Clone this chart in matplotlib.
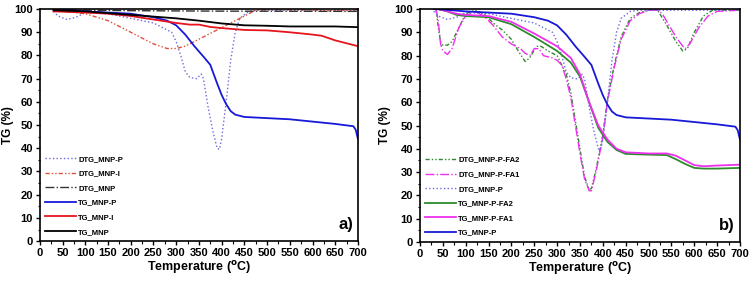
import numpy as np
import matplotlib
matplotlib.use('Agg')
import matplotlib.pyplot as plt
from matplotlib.ticker import MultipleLocator

plt.rcParams['font.family'] = ['Liberation Sans', 'DejaVu Sans']
plt.rcParams['font.weight'] = 'bold'

# ── panel a ──
tg_p_x = [30, 50, 100, 150, 200, 250, 280, 300, 320, 340, 360, 375, 390, 400, 410, 420, 430, 450,
          500, 550, 600, 650, 690, 695, 700]
tg_p_y = [100, 99.8, 99, 98.5, 98, 96.5, 95, 93, 89, 84, 79.5, 76, 68, 63, 59, 56, 54.5, 53.5,
          53, 52.5, 51.5, 50.5, 49.5, 48, 44]

tg_i_x = [30, 100, 150, 200, 250, 300, 330, 350, 375, 400, 450, 500, 550, 600, 620, 650, 700]
tg_i_y = [99, 98.5, 98, 97, 95.5, 94, 93.3, 93.3, 92.3, 91.8, 91, 90.8, 90, 89, 88.5, 86.5, 84]

tg_m_x = [30, 100, 200, 300, 350, 400, 450, 500, 550, 600, 650, 700]
tg_m_y = [99.5, 99, 97.5, 96, 95, 93.8, 93, 92.8, 92.5, 92.5, 92.5, 92.2]

dtg_p_x = [30, 40, 60, 80, 100, 150, 200, 250, 270, 290, 300, 310, 320, 330, 345, 355, 360, 370,
           380, 390, 395, 400, 410, 420, 430, 440, 460, 480, 700]
dtg_p_y = [99, 97, 95.5, 96.5, 98.5, 98, 96, 94, 92, 90, 86, 80, 73, 70.5, 70, 72, 70, 58,
           48, 40, 39.5, 44, 60, 78, 90, 96, 99, 99.5, 99.5]

dtg_i_x = [30, 100, 150, 200, 250, 280, 300, 320, 350, 400, 450, 475, 500, 600, 640, 660, 680, 700]
dtg_i_y = [99.5, 98, 95, 90, 85, 83, 83, 84, 87, 92, 97, 99.5, 99.8, 99.6, 99.2, 99.5, 99.2, 99.8]

dtg_m_x = [30, 100, 200, 400, 700]
dtg_m_y = [100, 99.5, 99.3, 99.1, 99]

# ── panel b ──
tg_fa1_x = [40, 60, 80, 100, 150, 200, 250, 300, 330, 350, 370, 390, 410, 430, 450, 500, 540, 560,
            580, 600, 620, 650, 700]
tg_fa1_y = [100, 99, 98, 97.5, 97, 94.5, 89.5, 84, 79, 72, 60, 50, 44, 40, 38.5, 38, 38, 37,
            35, 33, 32.5, 32.8, 33.2]

tg_fa2_x = [40, 60, 80, 100, 150, 200, 250, 300, 330, 350, 370, 390, 410, 430, 450, 500, 540, 560,
            580, 600, 620, 650, 700]
tg_fa2_y = [100, 99, 97.5, 97, 96.5, 93.5, 88, 82, 77, 71, 60, 49, 43, 39.5, 37.8, 37.5, 37.3, 35.5,
            33.5, 31.8, 31.5, 31.5, 31.8]

dtg_fa1_x = [35, 40, 45, 50, 60, 70, 85, 100, 120, 140, 160, 180, 200, 220, 230, 240, 250, 260, 270,
             290, 300, 310, 320, 330, 340, 350, 360, 370, 375, 385, 400, 410, 425, 440, 460, 480, 500,
             520, 530, 545, 560, 575, 580, 590, 610, 630, 650, 700]
dtg_fa1_y = [100, 95, 85, 82, 80.5, 83, 92, 97, 99, 97, 93, 88, 85, 83, 81, 80, 83, 83, 80,
             79, 78, 76, 70, 62, 50, 38, 27, 22, 22, 30, 45, 60, 75, 87, 95, 98, 99.5,
             99.5, 98, 93, 88, 84, 83, 85, 92, 97, 99, 99.5]

dtg_fa2_x = [35, 40, 45, 50, 60, 70, 85, 100, 120, 140, 160, 180, 200, 215, 230, 240, 255, 265, 280,
             300, 320, 330, 340, 350, 360, 370, 375, 385, 400, 410, 425, 440, 460, 480, 500, 520,
             540, 560, 575, 585, 600, 620, 640, 700]
dtg_fa2_y = [100, 92, 86, 84.5, 84.5, 86, 92, 98, 99.5, 98, 94, 91, 87, 82, 77.5, 79, 84, 84, 82,
             80, 72, 64, 52, 40, 28, 22.5, 23, 31, 46, 61, 76, 88, 96, 98.5, 99.5, 99.5,
             93, 86, 82, 83, 90, 97, 99.5, 99.5]

BLUE = '#1818d8'
DBLUE = '#6a6ae0'
RED = '#e8141e'
DRED = '#e0503a'
GREEN = '#2c8c2c'
MAG = '#ee30ee'
DDOT = (0, (3, 1.5, 1, 1.5, 1, 1.5))

fig = plt.figure(figsize=(7.52, 2.83), dpi=100)
ax1 = fig.add_axes([0.053, 0.148, 0.423, 0.820])
ax2 = fig.add_axes([0.5585, 0.145, 0.4255, 0.823])

ax1.plot(dtg_p_x, dtg_p_y, color=DBLUE, ls=':', lw=1, label='DTG_MNP-P')
ax1.plot(dtg_i_x, dtg_i_y, color=DRED, ls=DDOT, lw=1, label='DTG_MNP-I')
ax1.plot(dtg_m_x, dtg_m_y, color='#333333', ls='-.', lw=1, label='DTG_MNP')
ax1.plot(tg_p_x, tg_p_y, color=BLUE, lw=1.3, label='TG_MNP-P')
ax1.plot(tg_i_x, tg_i_y, color=RED, lw=1.3, label='TG_MNP-I')
ax1.plot(tg_m_x, tg_m_y, color='black', lw=1.3, label='TG_MNP')

ax2.plot(dtg_fa2_x, dtg_fa2_y, color=GREEN, ls=DDOT, lw=1, label='DTG_MNP-P-FA2')
ax2.plot(dtg_fa1_x, dtg_fa1_y, color=MAG, ls='-.', lw=1, label='DTG_MNP-P-FA1')
ax2.plot(dtg_p_x, dtg_p_y, color=DBLUE, ls=':', lw=1, label='DTG_MNP-P')
ax2.plot(tg_fa2_x, tg_fa2_y, color=GREEN, lw=1.3, label='TG_MNP-P-FA2')
ax2.plot(tg_fa1_x, tg_fa1_y, color=MAG, lw=1.3, label='TG_MNP-P-FA1')
ax2.plot(tg_p_x, tg_p_y, color=BLUE, lw=1.3, label='TG_MNP-P')

for ax, tag, lx in [(ax1, 'a)', -0.08), (ax2, 'b)', -0.09)]:
    ax.set_xlim(0, 700)
    ax.set_ylim(0, 100)
    ax.xaxis.set_major_locator(MultipleLocator(50))
    ax.xaxis.set_minor_locator(MultipleLocator(25))
    ax.yaxis.set_major_locator(MultipleLocator(10))
    ax.yaxis.set_minor_locator(MultipleLocator(5))
    ax.tick_params(labelsize=8, length=3, width=1, pad=2)
    ax.tick_params(which='minor', length=1.8, width=0.8)
    for s in ax.spines.values():
        s.set_linewidth(1.2)
    ax.set_xlabel('Temperature ($^{\\mathbf{o}}$C)', fontsize=9, fontweight='bold', labelpad=1)
    ax.set_ylabel('TG (%)', fontsize=8.5, fontweight='bold')
    ax.yaxis.set_label_coords(lx, 0.5)
    ax.text(0.985, 0.04, tag, transform=ax.transAxes, ha='right', va='bottom',
            fontsize=12, fontweight='bold')
    ax.legend(loc='lower left', frameon=False, handlelength=4,
              labelspacing=0.95, borderaxespad=0.3, handletextpad=0.3,
              prop={'weight': 'bold', 'size': 5.5})

fig.savefig('out.png', dpi=100)
